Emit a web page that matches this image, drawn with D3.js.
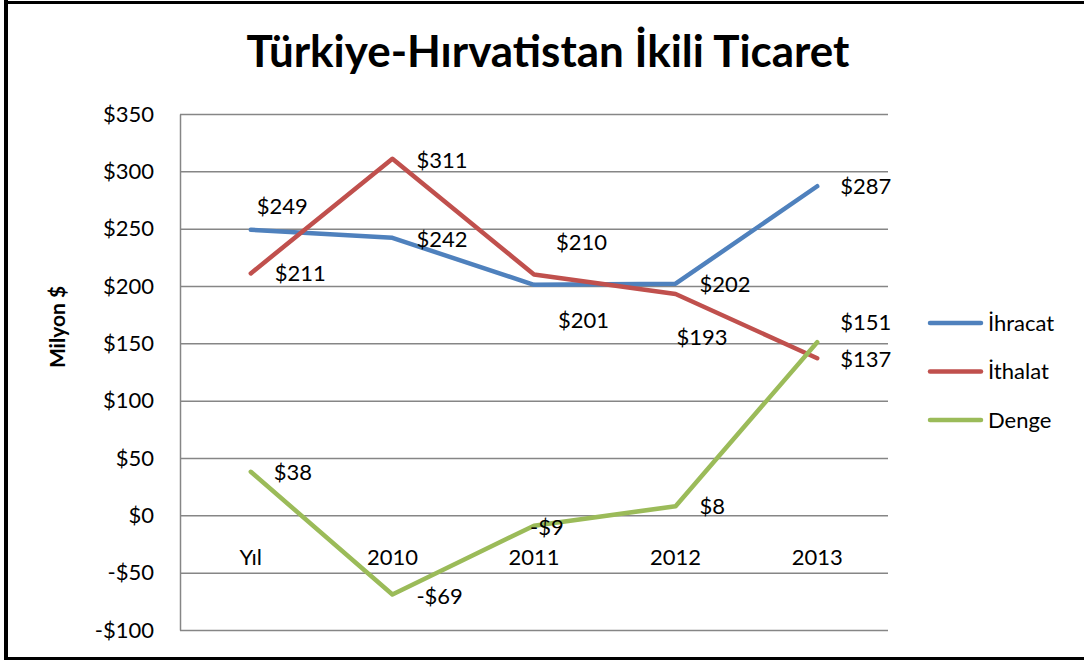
<!DOCTYPE html>
<html>
<head>
<meta charset="utf-8">
<script src="https://cdn.jsdelivr.net/npm/d3@7"></script>
<style>
  html, body { margin: 0; padding: 0; background: #fff; }
  svg { display: block; font-family: Lato, "Open Sans", sans-serif; }
</style>
</head>
<body>
<svg id="chart" width="1084" height="660"></svg>
<script>
// ---- data ----
const title = "Türkiye-Hırvatistan İkili Ticaret";
const yAxisTitle = "Milyon $";
const categories = ["Yıl", "2010", "2011", "2012", "2013"];
const seriesNames = ["İhracat", "İthalat", "Denge"];
const ihracat = [249, 242, 201, 202, 287];
const ithalat = [211, 311, 210, 193, 137];
const denge = [38, -69, -9, 8, 151];
const yTicks = [-100, -50, 0, 50, 100, 150, 200, 250, 300, 350];
const yTickLabels = ["-$100", "-$50", "$0", "$50", "$100", "$150", "$200", "$250", "$300", "$350"];

// ---- styles / layout (not data) ----
const colors = ["#4F81BD", "#C0504D", "#9BBB59"];
// data label offsets [dx, dy] from each point, per series
const labelOffsets = [
  [[6, -24], [24, 1], [24, 35], [24, 1], [23, 0]],
  [[24, 0], [24, 2], [22, -32], [1, 43], [23, 1]],
  [[23, 1], [24, 2], [-4, 2], [24, 0], [23, -20]]
];

const svg = d3.select("#chart");
const plot = { left: 180, right: 888, top: 114, bottom: 630 };

const x = d3.scalePoint().domain(categories).range([plot.left, plot.right]).padding(0.5);
const y = d3.scaleLinear().domain([-100, 350]).range([plot.bottom, plot.top]);

// border
svg.append("line").attr("x1", 6).attr("x2", 6).attr("y1", 0).attr("y2", 660)
  .attr("stroke", "#000").attr("stroke-width", 4);
svg.append("line").attr("x1", 4).attr("x2", 1084).attr("y1", 2.5).attr("y2", 2.5)
  .attr("stroke", "#000").attr("stroke-width", 3);
svg.append("line").attr("x1", 4).attr("x2", 1084).attr("y1", 658.5).attr("y2", 658.5)
  .attr("stroke", "#000").attr("stroke-width", 3);

// title
const t = svg.append("text")
  .attr("x", 548).attr("y", 67)
  .attr("text-anchor", "middle")
  .attr("font-weight", "bold")
  .attr("font-size", 40)
  .attr("fill", "#000")
  .text(title);
const tw = t.node().getComputedTextLength();
t.attr("font-size", 40 * 603 / tw);

// gridlines
const grid = svg.append("g").attr("transform", `translate(${plot.left},0)`)
  .call(d3.axisLeft(y).tickValues(yTicks).tickSize(-(plot.right - plot.left)).tickFormat(""));
grid.select(".domain").remove();
grid.selectAll(".tick line").attr("stroke", "#868686").attr("stroke-width", 1.5);

// y axis
const yAxis = svg.append("g").attr("transform", `translate(${plot.left},0)`)
  .call(d3.axisLeft(y).tickValues(yTicks).tickSize(0).tickPadding(26)
    .tickFormat((d, i) => yTickLabels[yTicks.indexOf(d)]));
yAxis.select(".domain").attr("stroke", "#868686").attr("stroke-width", 1.5);
yAxis.selectAll(".tick text").attr("font-size", 22).attr("font-family", "Lato").attr("fill", "#000");

// category labels at zero line
svg.append("g").selectAll("text").data(categories).join("text")
  .attr("x", d => x(d))
  .attr("y", y(0) + 50)
  .attr("text-anchor", "middle")
  .attr("font-size", 22)
  .attr("fill", "#000")
  .text(d => d);

// y axis title
svg.append("text")
  .attr("transform", `translate(65,327) rotate(-90)`)
  .attr("text-anchor", "middle")
  .attr("font-weight", "bold")
  .attr("font-size", 21)
  .attr("fill", "#000")
  .text(yAxisTitle);

// lines
const allSeries = [ihracat, ithalat, denge];
const line = d3.line().x((d, i) => x(categories[i])).y(d => y(d));
allSeries.forEach((vals, s) => {
  svg.append("path")
    .datum(vals)
    .attr("d", line)
    .attr("fill", "none")
    .attr("stroke", colors[s])
    .attr("stroke-width", 4.5)
    .attr("stroke-linecap", "round")
    .attr("stroke-linejoin", "round");
});

// data labels
const fmt = v => (v < 0 ? "-$" : "$") + Math.abs(v);
allSeries.forEach((vals, s) => {
  svg.append("g").selectAll("text").data(vals).join("text")
    .attr("x", (d, i) => x(categories[i]) + labelOffsets[s][i][0])
    .attr("y", (d, i) => y(d) + labelOffsets[s][i][1])
    .attr("dy", "0.35em")
    .attr("font-size", 22)
    .attr("fill", "#000")
    .text(d => fmt(d));
});

// legend
const legend = svg.append("g");
seriesNames.forEach((name, i) => {
  const ly = 323 + i * 48.5;
  legend.append("line")
    .attr("x1", 930).attr("x2", 981).attr("y1", ly).attr("y2", ly)
    .attr("stroke", colors[i]).attr("stroke-width", 4.5).attr("stroke-linecap", "round");
  legend.append("text")
    .attr("x", 988).attr("y", ly).attr("dy", "0.35em")
    .attr("font-size", 22).attr("fill", "#000")
    .text(name);
});
</script>
</body>
</html>
